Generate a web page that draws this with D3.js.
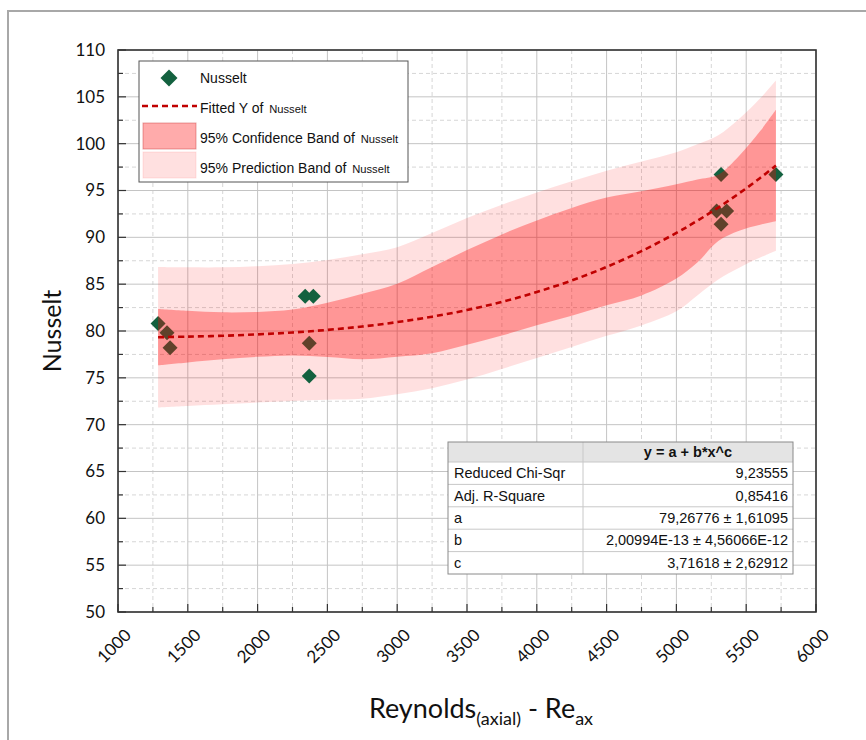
<!DOCTYPE html>
<html><head><meta charset="utf-8">
<script src="https://cdn.jsdelivr.net/npm/d3@7/dist/d3.min.js"></script>
<style>body{margin:0;background:#fff}svg{display:block}</style>
</head><body><svg id="c" width="866" height="740"></svg>
<script>
// ---- data ----
const bandX     = [1287, 1500, 1750, 2000, 2250, 2500, 2750, 3000, 3250, 3500, 3750, 4000, 4250, 4500, 4750, 5000, 5150, 5300, 5450, 5600, 5713];
const fitY      = [79.34, 79.40, 79.49, 79.64, 79.84, 80.12, 80.48, 80.95, 81.53, 82.24, 83.11, 84.16, 85.39, 86.84, 88.53, 90.47, 91.77, 93.18, 94.70, 96.34, 97.66];
const confUpper = [82.34, 82.15, 81.99, 82.04, 82.29, 83.02, 83.98, 85.05, 86.83, 88.64, 90.31, 91.81, 93.14, 94.24, 94.93, 95.67, 96.17, 96.68, 98.70, 101.34, 103.61];
const confLower = [76.34, 76.65, 76.99, 77.24, 77.39, 77.22, 76.98, 77.25, 77.63, 78.54, 79.51, 80.61, 81.64, 82.74, 83.80, 85.60, 87.30, 89.60, 90.70, 91.34, 91.71];
const predUpper = [86.84, 86.80, 86.80, 86.92, 87.14, 87.58, 88.19, 88.95, 90.46, 92.06, 93.48, 94.79, 95.98, 97.10, 98.10, 99.09, 99.93, 100.89, 102.65, 104.84, 106.75];
const predLower = [71.84, 72.00, 72.18, 72.36, 72.54, 72.66, 72.77, 73.25, 73.90, 74.82, 75.94, 77.13, 78.30, 79.48, 80.60, 82.10, 83.80, 85.50, 86.75, 87.84, 88.57];

const pointX = [1287, 1351, 1373, 2341, 2399, 2370, 2370, 5320, 5288, 5360, 5320, 5713];
const pointY = [80.8, 79.8, 78.2, 83.7, 83.7, 78.7, 75.2, 96.7, 92.8, 92.8, 91.4, 96.7];

const xTicks = [1000, 1500, 2000, 2500, 3000, 3500, 4000, 4500, 5000, 5500, 6000];
const xMinor = [1250, 1750, 2250, 2750, 3250, 3750, 4250, 4750, 5250, 5750];
const yTicks = [50, 55, 60, 65, 70, 75, 80, 85, 90, 95, 100, 105, 110];
const yMinor = [52.5, 57.5, 62.5, 67.5, 72.5, 77.5, 82.5, 87.5, 92.5, 97.5, 102.5, 107.5];

const legendNames = ["Nusselt", "Fitted Y of ", "95% Confidence Band of ", "95% Prediction Band of "];
const legendSmall = ["", "Nusselt", "Nusselt", "Nusselt"];

const tableHeader = "y = a + b*x^c";
const tableLabels = ["Reduced Chi-Sqr", "Adj. R-Square", "a", "b", "c"];
const tableValues = ["9,23555", "0,85416", "79,26776 ± 1,61095", "2,00994E-13 ± 4,56066E-12", "3,71618 ± 2,62912"];

// ---- layout ----
const L = 118, R = 816, T = 50, B = 612;
const svg = d3.select("#c");
const x = d3.scaleLinear().domain([1000, 6000]).range([L, R]);
const y = d3.scaleLinear().domain([50, 110]).range([B, T]);
const tickFont = "Lato, 'Open Sans', sans-serif";
const arial = "'Liberation Sans', Arial, sans-serif";

// page border
svg.append("path").attr("d", `M8,740 L8,11 L866,11`).attr("fill", "none").attr("stroke", "#a8a8a8").attr("stroke-width", 2);

// grid
const g = svg.append("g");
g.selectAll(".gxm").data(xMinor).join("line")
  .attr("x1", d => x(d)).attr("x2", d => x(d)).attr("y1", T).attr("y2", B)
  .attr("stroke", "#d6d6d6").attr("stroke-dasharray", "4,3");
g.selectAll(".gym").data(yMinor).join("line")
  .attr("y1", d => y(d)).attr("y2", d => y(d)).attr("x1", L).attr("x2", R)
  .attr("stroke", "#d6d6d6").attr("stroke-dasharray", "4,3");
g.selectAll(".gx").data(xTicks).join("line")
  .attr("x1", d => x(d)).attr("x2", d => x(d)).attr("y1", T).attr("y2", B)
  .attr("stroke", "#c4c4c4");
g.selectAll(".gy").data(yTicks).join("line")
  .attr("y1", d => y(d)).attr("y2", d => y(d)).attr("x1", L).attr("x2", R)
  .attr("stroke", "#c4c4c4");

const idx = d3.range(bandX.length);
const curve = d3.curveCatmullRom.alpha(0.5);
// prediction band
svg.append("path").datum(idx)
  .attr("d", d3.area().curve(curve).x(i => x(bandX[i])).y0(i => y(predLower[i])).y1(i => y(predUpper[i])))
  .attr("fill", "rgba(255,0,0,0.12)");

// points
const diamond = (r) => `M0,${-r}L${r},0L0,${r}L${-r},0Z`;
svg.append("g").selectAll("path").data(pointX).join("path")
  .attr("d", diamond(7.5))
  .attr("transform", (d, i) => `translate(${x(d)},${y(pointY[i])})`)
  .attr("fill", "#13613f");

// confidence band (on top of points)
svg.append("path").datum(idx)
  .attr("d", d3.area().curve(curve).x(i => x(bandX[i])).y0(i => y(confLower[i])).y1(i => y(confUpper[i])))
  .attr("fill", "rgba(255,0,0,0.33)");

// fit line
svg.append("path").datum(idx)
  .attr("d", d3.line().curve(curve).x(i => x(bandX[i])).y(i => y(fitY[i])))
  .attr("fill", "none").attr("stroke", "#c00000").attr("stroke-width", 2.6).attr("stroke-dasharray", "6,4");

// frame
svg.append("rect").attr("x", L).attr("y", T).attr("width", R - L).attr("height", B - T)
  .attr("fill", "none").attr("stroke", "#333").attr("stroke-width", 1.6);

// ticks (inward)
const ax = svg.append("g").attr("stroke", "#333").attr("stroke-width", 1.2);
ax.selectAll(".tx").data(xTicks).join("line").attr("x1", d => x(d)).attr("x2", d => x(d)).attr("y1", B).attr("y2", B - 8);
ax.selectAll(".txm").data(xMinor).join("line").attr("x1", d => x(d)).attr("x2", d => x(d)).attr("y1", B).attr("y2", B - 5);
ax.selectAll(".ty").data(yTicks).join("line").attr("y1", d => y(d)).attr("y2", d => y(d)).attr("x1", L).attr("x2", L + 8);
ax.selectAll(".tym").data(yMinor).join("line").attr("y1", d => y(d)).attr("y2", d => y(d)).attr("x1", L).attr("x2", L + 5);

// tick labels
svg.append("g").selectAll("text").data(yTicks).join("text")
  .attr("x", L - 13).attr("y", d => y(d)).attr("dy", "0.35em")
  .attr("text-anchor", "end").attr("font-family", tickFont).attr("font-size", 17).attr("fill", "#111")
  .text(d => d);
svg.append("g").selectAll("text").data(xTicks).join("text")
  .attr("transform", d => `translate(${x(d) + 10},${B + 20}) rotate(-45)`)
  .attr("dy", "0.35em").attr("text-anchor", "end")
  .attr("font-family", tickFont).attr("font-size", 17).attr("fill", "#111")
  .text(d => d);

// axis titles
svg.append("text").attr("transform", `translate(52,${(T + B) / 2 + 0}) rotate(-90)`)
  .attr("text-anchor", "middle").attr("dy", "0.35em")
  .attr("font-family", tickFont).attr("font-size", 25).attr("fill", "#111").text("Nusselt");
const xt = svg.append("text").attr("x", 481).attr("y", 718).attr("text-anchor", "middle")
  .attr("font-family", tickFont).attr("font-size", 27).attr("fill", "#111");
xt.append("tspan").text("Reynolds");
xt.append("tspan").attr("font-size", 18).attr("dy", 7).text("(axial)");
xt.append("tspan").attr("dy", -7).text(" - Re");
xt.append("tspan").attr("font-size", 18).attr("dy", 7).text("ax");

// legend
const lg = svg.append("g");
lg.append("rect").attr("x", 139).attr("y", 61).attr("width", 269).attr("height", 121)
  .attr("fill", "#fff").attr("stroke", "#555").attr("stroke-width", 1);
lg.append("path").attr("d", diamond(8.5)).attr("transform", "translate(169,78)").attr("fill", "#13613f");
lg.append("line").attr("x1", 142).attr("x2", 197).attr("y1", 106).attr("y2", 106)
  .attr("stroke", "#c00000").attr("stroke-width", 2.6).attr("stroke-dasharray", "6,4");
lg.append("rect").attr("x", 143).attr("y", 123).attr("width", 53).attr("height", 26)
  .attr("fill", "rgba(255,0,0,0.33)").attr("stroke", "rgba(200,60,60,0.45)");
lg.append("rect").attr("x", 143).attr("y", 152).attr("width", 53).attr("height", 26)
  .attr("fill", "rgba(255,0,0,0.12)").attr("stroke", "rgba(255,120,120,0.2)");
const ly = [83, 113, 143, 173];
legendNames.forEach((n, i) => {
  const t = lg.append("text").attr("x", 200).attr("y", ly[i]).attr("font-family", arial).attr("font-size", 14).attr("fill", "#111");
  t.append("tspan").text(n);
  if (legendSmall[i]) t.append("tspan").attr("font-size", 11.2).attr("dx", 2).text(legendSmall[i]);
});

// table
const tb = svg.append("g");
const tx0 = 448, tx1 = 583, tx2 = 793, ty0 = 442, hh = 20, rh = 22.4;
tb.append("rect").attr("x", tx0).attr("y", ty0).attr("width", tx2 - tx0).attr("height", hh).attr("fill", "#e4e4e4");
tb.append("rect").attr("x", tx0).attr("y", ty0 + hh).attr("width", tx2 - tx0).attr("height", rh * tableLabels.length).attr("fill", "#fff");
tableLabels.forEach((lab, i) => {
  const yy = ty0 + hh + rh * i;
  tb.append("line").attr("x1", tx0).attr("x2", tx2).attr("y1", yy).attr("y2", yy).attr("stroke", "#c8c8c8");
  tb.append("text").attr("x", tx0 + 6).attr("y", yy + rh / 2).attr("dy", "0.35em")
    .attr("font-family", arial).attr("font-size", 14.5).attr("fill", "#111").text(lab);
  tb.append("text").attr("x", tx2 - 5).attr("y", yy + rh / 2).attr("dy", "0.35em").attr("text-anchor", "end")
    .attr("font-family", arial).attr("font-size", 14.5).attr("fill", "#111").text(tableValues[i]);
});
tb.append("line").attr("x1", tx1).attr("x2", tx1).attr("y1", ty0).attr("y2", ty0 + hh + rh * tableLabels.length).attr("stroke", "#c8c8c8");
tb.append("text").attr("x", (tx1 + tx2) / 2).attr("y", ty0 + hh / 2).attr("dy", "0.35em").attr("text-anchor", "middle")
  .attr("font-family", arial).attr("font-size", 14.5).attr("font-weight", "bold").attr("fill", "#111").text(tableHeader);
tb.append("rect").attr("x", tx0).attr("y", ty0).attr("width", tx2 - tx0).attr("height", hh + rh * tableLabels.length)
  .attr("fill", "none").attr("stroke", "#8a8a8a");
</script></body></html>
